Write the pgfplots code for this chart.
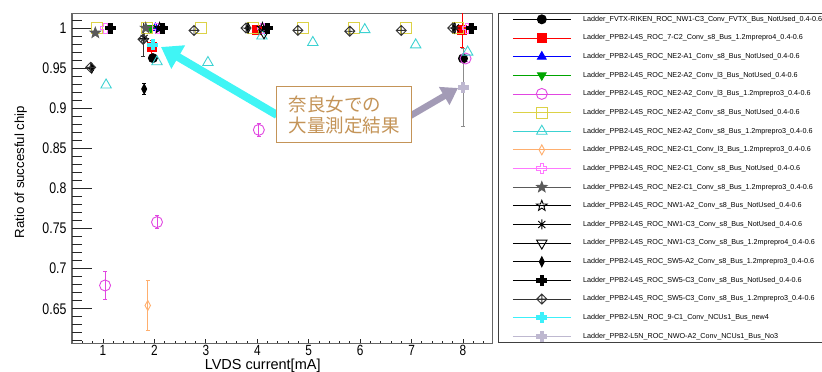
\documentclass[border=0pt]{standalone}
\usepackage{pgfplots}
\pgfplotsset{compat=1.18}
\usepackage{fontspec}
\setmainfont{Liberation Sans}
\newfontfamily\tickfont[FakeStretch=0.8]{Liberation Sans}
\newfontfamily\jpfont{Noto Sans CJK JP}
\usetikzlibrary{plotmarks,arrows.meta}

\definecolor{rtred}{RGB}{255,0,0}
\definecolor{rtblue}{RGB}{0,0,255}
\definecolor{rtgreen}{RGB}{0,165,0}
\definecolor{rtmagenta}{RGB}{225,70,225}
\definecolor{rtyellow}{RGB}{220,210,70}
\definecolor{rtcyan}{RGB}{60,210,210}
\definecolor{rtorange}{RGB}{255,175,110}
\definecolor{rtpink}{RGB}{255,120,255}
\definecolor{rtgray}{RGB}{90,90,90}
\definecolor{rtaqua}{RGB}{60,240,250}
\definecolor{rtlilac}{RGB}{190,184,208}
\definecolor{notetan}{RGB}{196,148,88}
\definecolor{arrowcyan}{RGB}{64,245,245}
\definecolor{arrowgray}{RGB}{163,155,182}

% plus-shaped outline, arm half-width given as a fraction of the mark size
\def\crosspath#1{%
  \pgfpathmoveto{\pgfpoint{-#1\pgfplotmarksize}{\pgfplotmarksize}}%
  \pgfpathlineto{\pgfpoint{#1\pgfplotmarksize}{\pgfplotmarksize}}%
  \pgfpathlineto{\pgfpoint{#1\pgfplotmarksize}{#1\pgfplotmarksize}}%
  \pgfpathlineto{\pgfpoint{\pgfplotmarksize}{#1\pgfplotmarksize}}%
  \pgfpathlineto{\pgfpoint{\pgfplotmarksize}{-#1\pgfplotmarksize}}%
  \pgfpathlineto{\pgfpoint{#1\pgfplotmarksize}{-#1\pgfplotmarksize}}%
  \pgfpathlineto{\pgfpoint{#1\pgfplotmarksize}{-\pgfplotmarksize}}%
  \pgfpathlineto{\pgfpoint{-#1\pgfplotmarksize}{-\pgfplotmarksize}}%
  \pgfpathlineto{\pgfpoint{-#1\pgfplotmarksize}{-#1\pgfplotmarksize}}%
  \pgfpathlineto{\pgfpoint{-\pgfplotmarksize}{-#1\pgfplotmarksize}}%
  \pgfpathlineto{\pgfpoint{-\pgfplotmarksize}{#1\pgfplotmarksize}}%
  \pgfpathlineto{\pgfpoint{-#1\pgfplotmarksize}{#1\pgfplotmarksize}}%
  \pgfpathclose}
\pgfdeclareplotmark{ocross}{\crosspath{0.36}\pgfusepathqstroke}
\pgfdeclareplotmark{fcross}{\crosspath{0.36}\pgfusepathqfillstroke}
% five-pointed star
\def\starpath{%
  \pgfpathmoveto{\pgfpointpolar{90}{\pgfplotmarksize}}%
  \pgfpathlineto{\pgfpointpolar{126}{0.42\pgfplotmarksize}}%
  \pgfpathlineto{\pgfpointpolar{162}{\pgfplotmarksize}}%
  \pgfpathlineto{\pgfpointpolar{198}{0.42\pgfplotmarksize}}%
  \pgfpathlineto{\pgfpointpolar{234}{\pgfplotmarksize}}%
  \pgfpathlineto{\pgfpointpolar{270}{0.42\pgfplotmarksize}}%
  \pgfpathlineto{\pgfpointpolar{306}{\pgfplotmarksize}}%
  \pgfpathlineto{\pgfpointpolar{342}{0.42\pgfplotmarksize}}%
  \pgfpathlineto{\pgfpointpolar{18}{\pgfplotmarksize}}%
  \pgfpathlineto{\pgfpointpolar{54}{0.42\pgfplotmarksize}}%
  \pgfpathclose}
\pgfdeclareplotmark{ostar}{\starpath\pgfusepathqstroke}
\pgfdeclareplotmark{fstar}{\starpath\pgfusepathqfillstroke}
% eight-armed asterisk
\pgfdeclareplotmark{astx}{%
  \pgfpathmoveto{\pgfpoint{-\pgfplotmarksize}{0pt}}\pgfpathlineto{\pgfpoint{\pgfplotmarksize}{0pt}}%
  \pgfpathmoveto{\pgfpoint{0pt}{-\pgfplotmarksize}}\pgfpathlineto{\pgfpoint{0pt}{\pgfplotmarksize}}%
  \pgfpathmoveto{\pgfpoint{-0.7\pgfplotmarksize}{-0.7\pgfplotmarksize}}\pgfpathlineto{\pgfpoint{0.7\pgfplotmarksize}{0.7\pgfplotmarksize}}%
  \pgfpathmoveto{\pgfpoint{-0.7\pgfplotmarksize}{0.7\pgfplotmarksize}}\pgfpathlineto{\pgfpoint{0.7\pgfplotmarksize}{-0.7\pgfplotmarksize}}%
  \pgfusepathqstroke}
% narrow filled diamond
\pgfdeclareplotmark{tdiamond}{%
  \pgfpathmoveto{\pgfpoint{0pt}{\pgfplotmarksize}}%
  \pgfpathlineto{\pgfpoint{0.5\pgfplotmarksize}{0pt}}%
  \pgfpathlineto{\pgfpoint{0pt}{-\pgfplotmarksize}}%
  \pgfpathlineto{\pgfpoint{-0.5\pgfplotmarksize}{0pt}}%
  \pgfpathclose\pgfusepathqfillstroke}
% open narrow diamond
\pgfdeclareplotmark{odiamond}{%
  \pgfpathmoveto{\pgfpoint{0pt}{\pgfplotmarksize}}%
  \pgfpathlineto{\pgfpoint{0.55\pgfplotmarksize}{0pt}}%
  \pgfpathlineto{\pgfpoint{0pt}{-\pgfplotmarksize}}%
  \pgfpathlineto{\pgfpoint{-0.55\pgfplotmarksize}{0pt}}%
  \pgfpathclose\pgfusepathqstroke}
% open diamond with a cross inside
\pgfdeclareplotmark{xdiamond}{%
  \pgfpathmoveto{\pgfpoint{0pt}{\pgfplotmarksize}}%
  \pgfpathlineto{\pgfpoint{\pgfplotmarksize}{0pt}}%
  \pgfpathlineto{\pgfpoint{0pt}{-\pgfplotmarksize}}%
  \pgfpathlineto{\pgfpoint{-\pgfplotmarksize}{0pt}}%
  \pgfpathclose
  \pgfpathmoveto{\pgfpoint{-\pgfplotmarksize}{0pt}}\pgfpathlineto{\pgfpoint{\pgfplotmarksize}{0pt}}%
  \pgfpathmoveto{\pgfpoint{0pt}{-\pgfplotmarksize}}\pgfpathlineto{\pgfpoint{0pt}{\pgfplotmarksize}}%
  \pgfusepathqstroke}

\pgfplotsset{
  rootmark/.style={only marks, solid, line width=0.9pt},
  error bars/error bar style={line width=0.9pt, solid},
  error bars/error mark options={rotate=90, mark size=2pt, line width=0.9pt},
}

\begin{document}
\begin{tikzpicture}
\useasboundingbox (0pt,0pt) rectangle (822pt,372pt);

% tick marks along x (short) on a separate frame
\begin{axis}[
  at={(72pt,28pt)}, anchor=south west,
  width=420pt, height=330pt, scale only axis,
  xmin=0.397, xmax=8.564, ymin=0.606, ymax=1.0175,
  xtick={1,2,3,4,5,6,7,8},
  minor xtick={0.4,0.6,0.8,1.2,1.4,1.6,1.8,2.2,2.4,2.6,2.8,3.2,3.4,3.6,3.8,4.2,4.4,4.6,4.8,5.2,5.4,5.6,5.8,6.2,6.4,6.6,6.8,7.2,7.4,7.6,7.8,8.2,8.4},
  ytick=\empty,
  xtick pos=bottom, tick align=inside,
  major tick length=5pt, minor tick length=2.5pt,
  tick style={black!85, line width=0.8pt},
  axis line style={draw=black!60, line width=1pt},
  /pgf/number format/assume math mode=true,
  ticklabel style={font=\tickfont\fontsize{14.8}{16}\selectfont},
  xticklabel style={inner sep=0pt, yshift=-1pt},
  xlabel={LVDS current[mA]},
  xlabel style={font=\fontsize{14.5}{16}\selectfont, inner sep=0pt, at={(axis description cs:0.454,0)}, anchor=base, yshift=-25pt},
]
\end{axis}

\begin{axis}[
  at={(72pt,28pt)}, anchor=south west,
  width=420pt, height=330pt, scale only axis,
  xmin=0.397, xmax=8.564, ymin=0.606, ymax=1.0175,
  xtick=\empty,
  ytick={0.65,0.7,0.75,0.8,0.85,0.9,0.95,1},
  minor ytick={0.61,0.62,0.63,0.64,0.66,0.67,0.68,0.69,0.71,0.72,0.73,0.74,0.76,0.77,0.78,0.79,0.81,0.82,0.83,0.84,0.86,0.87,0.88,0.89,0.91,0.92,0.93,0.94,0.96,0.97,0.98,0.99,1.01},
  ytick pos=left, tick align=inside,
  major tick length=20pt, minor tick length=10pt,
  tick style={black!85, line width=0.8pt},
  axis line style={draw=black!60, line width=1pt},
  /pgf/number format/assume math mode=true,
  ticklabel style={font=\tickfont\fontsize{15.4}{16}\selectfont},
  yticklabel style={/pgf/number format/fixed, xshift=-2pt},
  ylabel={Ratio of succesful chip},
  ylabel style={font=\fontsize{13.2}{15}\selectfont, at={(axis description cs:-0.114,0.521)}, anchor=base, rotate=0},
  clip=true,
  legend cell align=left,
  legend style={
    at={(axis description cs:1.0143,1.0033)}, anchor=north west,
    draw=black!75, line width=0.8pt, fill=white,
    font=\fontsize{7.2}{8}\selectfont,
    inner xsep=14pt, inner ysep=0pt,
    row sep=6.65pt, column sep=12pt,
    nodes={inner sep=0pt, minimum height=12pt},
  },
  legend image code/.code={%
    \draw[solid, line width=0.8pt] (0pt,0pt) -- (58pt,0pt);
    \draw plot coordinates {(29pt,0pt)};
  },
]
% 1
\addplot+[rootmark, black, mark=*, mark size=4.5pt, mark options={fill=black}]
  coordinates {(1.97,0.9625) (8.0,0.962)};
\addlegendentry{Ladder\_FVTX-RIKEN\_ROC\_NW1-C3\_Conv\_FVTX\_Bus\_NotUsed\_0.4-0.6}
% 2
\addplot+[rootmark, rtred, mark=square*, mark size=4.5pt, mark options={fill=rtred},
  error bars/.cd, y dir=both, y explicit]
  coordinates {(1.95,0.976) +- (0,0.009) (4.0,0.998) +- (0,0.003) (7.98,0.998) +- (0,0.022)};
\addlegendentry{Ladder\_PPB2-L4S\_ROC\_7-C2\_Conv\_s8\_Bus\_1.2mprepro4\_0.4-0.6}
% 3
\addplot+[rootmark, rtblue, mark=triangle*, mark size=5pt, mark options={fill=rtblue}]
  coordinates {(2.02,1.0)};
\addlegendentry{Ladder\_PPB2-L4S\_ROC\_NE2-A1\_Conv\_s8\_Bus\_NotUsed\_0.4-0.6}
% 4
\addplot+[rootmark, rtgreen, mark=triangle*, mark size=5pt, mark options={fill=rtgreen, rotate=180}]
  coordinates {(1.93,1.0)};
\addlegendentry{Ladder\_PPB2-L4S\_ROC\_NE2-A2\_Conv\_l3\_Bus\_NotUsed\_0.4-0.6}
% 5
\addplot+[rootmark, rtmagenta, mark=o, mark size=5.5pt, mark options={fill=none},
  error bars/.cd, y dir=both, y explicit]
  coordinates {(1.04,0.679) +- (0,0.017) (2.05,0.758) +- (0,0.008) (4.03,0.873) +- (0,0.008) (8.05,0.962) +- (0,0.004)};
\addlegendentry{Ladder\_PPB2-L4S\_ROC\_NE2-A2\_Conv\_l3\_Bus\_1.2mprepro3\_0.4-0.6}
% 6
\addplot+[rootmark, rtyellow, mark=square, mark size=5.5pt, mark options={fill=none}]
  coordinates {(0.88,1.0) (1.86,1.0) (2.9,1.0) (3.92,1.0) (4.88,1.0) (5.88,1.0) (6.9,1.0) (7.9,1.0)};
\addlegendentry{Ladder\_PPB2-L4S\_ROC\_NE2-A2\_Conv\_s8\_Bus\_NotUsed\_0.4-0.6}
% 7
\addplot+[rootmark, rtcyan, mark=triangle, mark size=6pt, mark options={fill=none}]
  coordinates {(1.06,0.929) (2.05,0.958) (3.04,0.957) (4.09,0.99) (5.08,0.982) (6.09,0.998) (7.08,0.979) (8.09,0.97)};
\addlegendentry{Ladder\_PPB2-L4S\_ROC\_NE2-A2\_Conv\_s8\_Bus\_1.2mprepro3\_0.4-0.6}
% 8
\addplot+[rootmark, rtorange, mark=odiamond, mark size=5pt,
  error bars/.cd, y dir=both, y explicit]
  coordinates {(1.87,0.654) +- (0,0.031)};
\addlegendentry{Ladder\_PPB2-L4S\_ROC\_NE2-C1\_Conv\_l3\_Bus\_1.2mprepro3\_0.4-0.6}
% 9
\addplot+[rootmark, rtpink, mark=ocross, mark size=5pt]
  coordinates {(1.05,1.0) (2.06,1.0) (4.1,1.0) (8.08,1.0)};
\addlegendentry{Ladder\_PPB2-L4S\_ROC\_NE2-C1\_Conv\_s8\_Bus\_NotUsed\_0.4-0.6}
% 10
\addplot+[rootmark, rtgray, mark=fstar, mark size=5.5pt, mark options={fill=rtgray}]
  coordinates {(0.85,0.994) (1.83,1.0)};
\addlegendentry{Ladder\_PPB2-L4S\_ROC\_NE2-C1\_Conv\_s8\_Bus\_1.2mprepro3\_0.4-0.6}
% 11
\addplot+[rootmark, black, mark=ostar, mark size=5.5pt]
  coordinates {(2.1,1.0) (4.1,1.0)};
\addlegendentry{Ladder\_PPB2-L4S\_ROC\_NW1-A2\_Conv\_s8\_Bus\_NotUsed\_0.4-0.6}
% 12
\addplot+[rootmark, black, mark=astx, mark size=5pt]
  coordinates {(1.8,0.987) (7.85,1.0)};
\addlegendentry{Ladder\_PPB2-L4S\_ROC\_NW1-C3\_Conv\_s8\_Bus\_NotUsed\_0.4-0.6}
% 13
\addplot+[rootmark, black, mark=triangle, mark size=6pt, mark options={rotate=180, fill=none}]
  coordinates {(4.13,0.994)};
\addlegendentry{Ladder\_PPB2-L4S\_ROC\_NW1-C3\_Conv\_s8\_Bus\_1.2mprepro4\_0.4-0.6}
% 14
\addplot+[rootmark, black, mark=tdiamond, mark size=5pt, mark options={fill=black},
  error bars/.cd, y dir=both, y explicit]
  coordinates {(0.78,0.95) +- (0,0.003) (1.8,0.924) +- (0,0.007) (3.82,1.0) +- (0,0) (7.83,1.0) +- (0,0)};
\addlegendentry{Ladder\_PPB2-L4S\_ROC\_SW5-A2\_Conv\_s8\_Bus\_1.2mprepro3\_0.4-0.6}
% 15
\addplot+[rootmark, black, mark=fcross, mark size=5pt, mark options={fill=black}]
  coordinates {(1.14,1.0) (2.16,1.0) (4.2,1.0) (8.17,1.0)};
\addlegendentry{Ladder\_PPB2-L4S\_ROC\_SW5-C3\_Conv\_s8\_Bus\_NotUsed\_0.4-0.6}
% 16
\addplot+[rootmark, black!80, mark=xdiamond, mark size=5pt,
  error bars/.cd, y dir=both, y explicit]
  coordinates {(0.76,0.951) +- (0,0) (1.78,0.986) +- (0,0.021) (2.77,0.997) +- (0,0) (3.78,1.0) +- (0,0) (4.79,0.997) +- (0,0) (5.8,0.996) +- (0,0) (6.8,0.997) +- (0,0) (7.8,1.0) +- (0,0)};
\addlegendentry{Ladder\_PPB2-L4S\_ROC\_SW5-C3\_Conv\_s8\_Bus\_1.2mprepro3\_0.4-0.6}
% 17
\addplot+[rootmark, rtaqua, mark=fcross, mark size=5pt, mark options={fill=rtaqua}]
  coordinates {(1.97,0.979)};
\addlegendentry{Ladder\_PPB2-L5N\_ROC\_9-C1\_Conv\_NCUs1\_Bus\_new4}
% 18
\addplot+[rootmark, rtlilac, mark=fcross, mark size=5pt, mark options={fill=rtlilac},
  error bars/.cd, y dir=both, y explicit,
  error bar style={black!45}, error mark options={black!45, rotate=90, mark size=2pt}]
  coordinates {(8.0,0.926) +- (0,0.049)};
\addlegendentry{Ladder\_PPB2-L5N\_ROC\_NWO-A2\_Conv\_NCUs1\_Bus\_No3}
\end{axis}

% callout pointing at the bulk measurement points
\draw[arrowcyan, line width=8pt, -{Triangle[width=26pt,length=20pt]}]
  (277pt,257pt) -- (161pt,325pt);
\draw[arrowgray, line width=6.5pt, -{Triangle[width=20pt,length=16pt]}]
  (410pt,256pt) -- (458pt,284pt);
\node[draw=notetan, line width=1.2pt, fill=white, text=notetan,
  font=\jpfont\fontsize{18.5}{21}\selectfont, align=left,
  minimum width=135pt, minimum height=56pt, inner sep=0pt,
  anchor=north west] at (276pt,286pt) {奈良女での\\大量測定結果};
\end{tikzpicture}
\end{document}
